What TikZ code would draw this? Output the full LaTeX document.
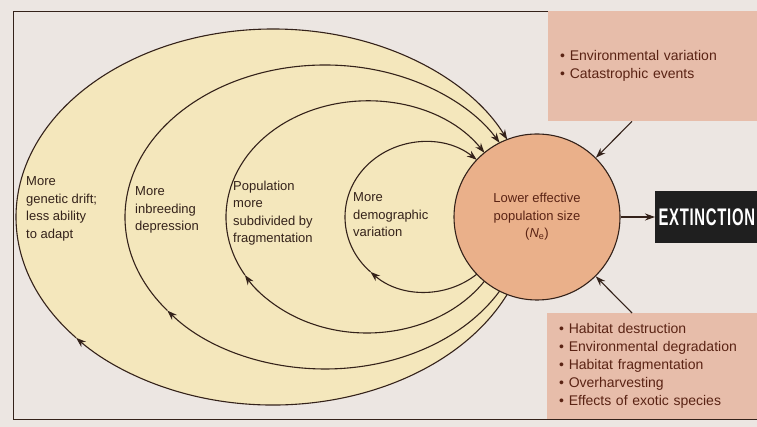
\documentclass[tikz,border=0pt]{standalone}
\usepackage{fontspec}
\setmainfont{Liberation Sans}
\newfontfamily\condfont[FakeStretch=0.62,LetterSpace=3]{Liberation Sans}
\usetikzlibrary{arrows.meta,positioning}
\definecolor{paper}{RGB}{236,230,226}
\definecolor{cream}{RGB}{244,231,188}
\definecolor{salmon}{RGB}{234,176,138}
\definecolor{blush}{RGB}{231,189,170}
\definecolor{ink}{RGB}{52,34,26}
\definecolor{rust}{RGB}{90,35,20}

\begin{document}
\begin{tikzpicture}[x=1pt,y=1pt,>={Stealth[length=10pt,width=7pt]}]
  \tikzstyle{loop}=[draw=ink,line width=1.1pt]
  \tikzstyle{lbl}=[align=left,anchor=west,inner sep=0pt,text=ink,font=\fontsize{13}{17.5}\selectfont]
  \tikzstyle{pbox}=[fill=blush,anchor=north west,align=left,inner xsep=12pt,inner ysep=0pt,text=rust,font=\fontsize{14}{18}\selectfont]
  \useasboundingbox[fill=paper] (0,0) rectangle (757,427);
  \draw[ink,line width=0.8pt] (757,416) -- (13,416) -- (13,8) -- (757,8);
  % cream field behind the loops
  \fill[cream] (273,210) ellipse [x radius=257,y radius=188];
  \node[circle,draw=ink,line width=1.1pt,fill=salmon,minimum size=166pt,inner sep=0pt,align=center,text=rust,font=\fontsize{13}{17.5}\selectfont] (ne) at (537,210) {Lower effective\\population size\\(\textit{N}\textsubscript{e})};
  \node[pbox,text width=185pt,minimum height=110pt] (envbox) at (548,416) {\textbullet\ Environmental variation\\\textbullet\ Catastrophic events};
  \node[pbox,text width=186pt,minimum height=106pt] (habbox) at (547,114) {\textbullet\ Habitat destruction\\\textbullet\ Environmental degradation\\\textbullet\ Habitat fragmentation\\\textbullet\ Overharvesting\\\textbullet\ Effects of exotic species};
  \node[fill=black!88,minimum width=102pt,minimum height=52pt,anchor=west,text=white,font=\condfont\bfseries\fontsize{24}{24}\selectfont] (ext) at (655,210) {EXTINCTION};
  \node[lbl] (drift) at (26,218) {More\\genetic drift;\\less ability\\to adapt};
  \node[lbl] (inbr) at (135,217) {More\\inbreeding\\depression};
  \node[lbl] (frag) at (233,214) {Population\\more\\subdivided by\\fragmentation};
  \node[lbl] (demo) at (353,212) {More\\demographic\\variation};
  % loops: centre x / x radius / y radius / end angle / mid angle / name
  \foreach \cx/\rx/\ry/\te/\tm/\nm in {273/257/188/24.3/140/drift,325/200/152/29.2/142/inbr,367/141/116/33.6/150/frag,425/80/75/49.7/133/demo}{
    \draw[loop,->] (\cx pt,210pt) ++(-\te:\rx pt and \ry pt) arc[start angle=-\te,end angle=-\tm,x radius=\rx,y radius=\ry] coordinate (m\nm);
    \draw[loop,->] (m\nm) arc[start angle=-\tm,end angle=\te-360,x radius=\rx,y radius=\ry];
  }
  \draw[loop,->] ([xshift=84pt]envbox.south west) -- (ne);
  \draw[loop,->] ([xshift=85pt]habbox.north west) -- (ne);
  \draw[loop,->] (ne) -- (ext);
\end{tikzpicture}
\end{document}
